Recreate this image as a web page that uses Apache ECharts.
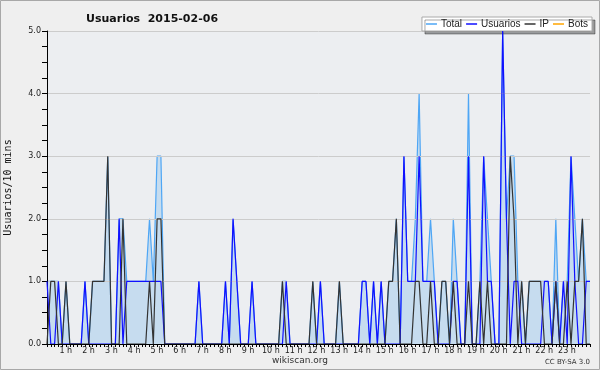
<!DOCTYPE html>
<html>
<head>
<meta charset="utf-8">
<script src="https://cdn.jsdelivr.net/npm/echarts@6/dist/echarts.min.js"></script>
<style>
html,body{margin:0;padding:0;background:#efefef;}
#c{width:600px;height:370px;}
</style>
</head>
<body>
<div id="c"></div>
<script>
// 10-minute slots 0..143 (00:00 .. 23:50), one row per hour
const usuarios = [
1,0,0,1,0,0,  0,0,0,0,1,0,  0,0,0,0,0,0,  0,2,0,1,1,1,
1,1,1,1,1,1,  1,0,0,0,0,0,  0,0,0,0,1,0,  0,0,0,0,0,1,
0,2,1,0,0,0,  1,0,0,0,0,0,  0,0,0,1,0,0,  0,0,0,0,0,0,
1,0,0,0,0,0,  0,0,0,0,0,1,  1,0,1,0,1,0,  0,0,0,0,3,1,
1,1,3,1,1,1,  1,0,0,0,0,1,  1,0,0,3,0,0,  0,3,1,1,0,0,
5,2,0,1,1,0,  0,0,0,0,0,1,  1,0,1,0,1,0,  3,1,0,0,1,1
];
const ip = [
0,1,1,0,0,1,  0,0,0,0,0,0,  1,1,1,1,3,0,  0,0,2,0,0,0,
0,0,0,1,0,2,  2,0,0,0,0,0,  0,0,0,0,0,0,  0,0,0,0,0,0,
0,0,0,0,0,0,  0,0,0,0,0,0,  0,0,1,0,0,0,  0,0,0,0,1,0,
0,0,0,0,0,1,  0,0,0,0,0,0,  0,0,0,0,0,0,  1,1,2,0,0,0,
0,1,1,0,0,1,  0,0,1,1,0,1,  0,0,0,1,0,0,  1,0,1,0,0,0,
0,0,3,2,0,1,  0,1,1,1,1,0,  0,0,1,0,0,1,  0,1,1,2,0,0
];
const bots = [
0,0,0,0,0,0,  0,0,0,0,0,0,  0,0,0,0,0,0,  0,0,0,0,0,0,
0,0,0,0,0,0,  0,0,0,0,0,0,  0,0,0,0,0,0,  0,0,0,0,0,0,
0,0,0,0,0,0,  0,0,0,0,0,0,  0,0,0,0,0,0,  0,0,0,0,0,0,
0,0,0,0,0,0,  0,0,0,0,0,0,  0,0,0,0,0,0,  0,0,0,0,0,0,
0,0,0,0,0,0,  0,0,0,0,0,0,  0,0,0,0,0,0,  0,0,0,0,0,0,
0,0,0,0,0,0,  0,0,0,0,0,0,  0,0,0,0,0,0,  0,0,0,0,0,0
];
const hourLabels = ["1 h","2 h","3 h","4 h","5 h","6 h","7 h","8 h","9 h","10 h","11 h","12 h","13 h","14 h","15 h","16 h","17 h","18 h","19 h","20 h","21 h","22 h","23 h"];
const yTicks = ["0.0","1.0","2.0","3.0","4.0","5.0"];

const total = usuarios.map((u,i)=>u+ip[i]+bots[i]);
const pts = arr => arr.map((v,i)=>[i,v]);

const chart = echarts.init(document.getElementById('c'), null, {renderer:'canvas'});
chart.setOption({
  backgroundColor:'#efefef',
  animation:false,
  title:{text:'Usuarios  2015-02-06', left:81, top:9,
    textStyle:{fontFamily:'DejaVu Sans', fontSize:11, fontWeight:'bold', color:'#111'}},
  legend:{
    right:8, top:17, itemGap:4, itemWidth:11, itemHeight:1.5, icon:'rect',
    backgroundColor:'#ffffff', borderColor:'#aaaaaa', borderWidth:1,
    padding:[2,4,2,4],
    shadowColor:'rgba(0,0,0,0.35)', shadowOffsetX:3, shadowOffsetY:3, shadowBlur:0,
    textStyle:{fontFamily:'Liberation Sans', fontSize:10, color:'#222', padding:[0,0,0,-1]},
    data:['Total','Usuarios','IP','Bots']
  },
  grid:{left:47, right:10, top:31, bottom:26, backgroundColor:'#eceef1', show:true, borderWidth:0,
    containLabel:false, outerBoundsMode:'none'},
  xAxis:{
    type:'value', min:0, max:143, interval:1, z:10,
    axisLine:{show:true, lineStyle:{color:'#000', width:1}},
    axisTick:{show:true, length:3, lineStyle:{color:'#000'}},
    splitLine:{show:false},
    axisLabel:{
      show:true, margin:3, fontFamily:'DejaVu Sans', fontSize:8, color:'#222',
      padding:[0,8,0,0],
      formatter:v=>(v%6===0 && v>0 && v<144)?hourLabels[v/6-1]:''
    }
  },
  yAxis:{
    type:'value', min:0, max:5, interval:1, z:3,
    name:'Usuarios/10 mins', nameLocation:'middle', nameGap:34, nameRotate:90,
    nameTextStyle:{fontFamily:'DejaVu Sans Mono', fontSize:10, color:'#111'},
    axisLine:{show:true, lineStyle:{color:'#000', width:1}},
    axisTick:{show:true, inside:false, length:5, lineStyle:{color:'#000'}},
    minorTick:{show:true, splitNumber:4, length:5, lineStyle:{color:'#000'}},
    splitLine:{show:true, lineStyle:{color:'#cccccc', width:1}},
    axisLabel:{margin:6, fontFamily:'DejaVu Sans', fontSize:8, color:'#222',
      formatter:v=>yTicks[v]}
  },
  series:[
    {name:'Total', type:'line', data:pts(total), symbol:'none', z:2,
      itemStyle:{color:'#4ea6f5'}, lineStyle:{color:'#4ea6f5', width:1.2},
      areaStyle:{color:'#c6dcef', opacity:1}},
    {name:'Usuarios', type:'line', data:pts(usuarios), symbol:'none', z:5,
      itemStyle:{color:'#1010ff'}, lineStyle:{color:'#1010ff', width:1.2}},
    {name:'IP', type:'line', data:pts(ip), symbol:'none', z:6,
      itemStyle:{color:'#333333'}, lineStyle:{color:'#333333', width:1.2}},
    {name:'Bots', type:'line', data:pts(bots), symbol:'none', z:1,
      itemStyle:{color:'#ffa500'}, lineStyle:{color:'#ffa500', width:1}}
  ],
  graphic:[
    {type:'rect', shape:{x:0.5,y:0.5,width:599,height:369}, style:{fill:null, stroke:'#a8a8a8', lineWidth:1}, z:100, silent:true},
    {type:'text', left:'center', top:356, style:{text:'wikiscan.org', font:'9px "DejaVu Sans"', fill:'#333'}},
    {type:'text', right:10, top:359, style:{text:'CC BY-SA 3.0', font:'7px "DejaVu Sans"', fill:'#333'}}
  ]
});
</script>
</body>
</html>
